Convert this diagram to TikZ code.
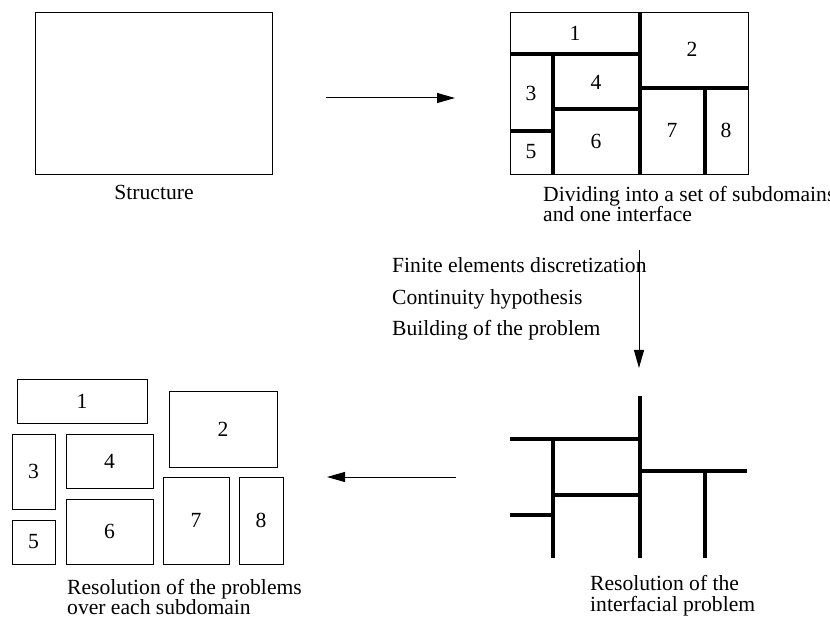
\documentclass[tikz,border=0pt]{standalone}
\usepackage{fontspec}
\setmainfont{Liberation Serif}
\usetikzlibrary{arrows.meta}
\begin{document}
\begin{tikzpicture}[x=1pt,y=-1pt,
  every node/.style={font=\fontsize{21.6}{20}\selectfont, inner sep=0pt},
  boxline/.style={draw, line width=0.9pt},
  subbox/.style={boxline, anchor=center},
  iface/.style={line width=4pt},
  flow/.style={line width=1pt, -{Triangle[length=18pt,width=10pt]}},
  captext/.style={anchor=base west}]
\useasboundingbox (0,0) rectangle (830,617);
% Structure
\node[subbox, minimum width=237, minimum height=162] (struct) at (153.5,93) {};
\node[anchor=base] (structcap) at (154,200) {Structure};
% Divided structure
\node[subbox, minimum width=238, minimum height=162] (dom) at (629,93) {};
\draw[iface] (640,12) -- (640,174);
\draw[iface] (510,54) -- (640,54);
\draw[iface] (553,54) -- (553,174);
\draw[iface] (553,109) -- (640,109);
\draw[iface] (510,131) -- (553,131);
\draw[iface] (640,88) -- (748,88);
\draw[iface] (705,88) -- (705,174);
\node (d1) at (575,33) {1};
\node (d2) at (692,49) {2};
\node (d3) at (531,93) {3};
\node (d4) at (596,82) {4};
\node (d5) at (531,152) {5};
\node (d6) at (596,141) {6};
\node (d7) at (672,130) {7};
\node (d8) at (726,130) {8};
\node[captext] (domcap1) at (543,202) {Dividing into a set of subdomains};
\node[captext] (domcap2) at (543,222) {and one interface};
% top arrow
\coordinate (a1s) at (326,98);
\coordinate (a1e) at (455,98);
\draw[flow] (a1s) -- (a1e);
% vertical arrow and steps
\coordinate (a2s) at (639,250);
\coordinate (a2e) at (639,368);
\draw[flow] (a2s) -- (a2e);
\node[captext] (s1) at (392,273) {Finite elements discretization};
\node[captext] (s2) at (392,305) {Continuity hypothesis};
\node[captext] (s3) at (392,336) {Building of the problem};
% interface problem
\draw[iface] (640,396) -- (640,558);
\draw[iface] (510,439) -- (640,439);
\draw[iface] (553,439) -- (553,558);
\draw[iface] (553,495) -- (640,495);
\draw[iface] (510,515) -- (553,515);
\draw[iface] (640,471) -- (747,471);
\draw[iface] (705,471) -- (705,558);
\node[captext] (ifcap1) at (590,590) {Resolution of the};
\node[captext] (ifcap2) at (590,611) {interfacial problem};
% bottom arrow
\coordinate (a3s) at (456,477);
\coordinate (a3e) at (327,477);
\draw[flow] (a3s) -- (a3e);
% separated subdomains
\node[subbox, minimum width=130, minimum height=44] (b1) at (82,401) {1};
\node[subbox, minimum width=108, minimum height=76] (b2) at (223,429) {2};
\node[subbox, minimum width=43, minimum height=75] (b3) at (33.5,471.5) {3};
\node[subbox, minimum width=87, minimum height=54] (b4) at (109.5,461) {4};
\node[subbox, minimum width=43, minimum height=44] (b5) at (33.5,542) {5};
\node[subbox, minimum width=87, minimum height=65] (b6) at (109.5,531.5) {6};
\node[subbox, minimum width=66, minimum height=87] (b7) at (196,520.5) {7};
\node[subbox, minimum width=44, minimum height=87] (b8) at (261,520.5) {8};
\node[captext] (bcap1) at (67,594) {Resolution of the problems};
\node[captext] (bcap2) at (67,614) {over each subdomain};
\end{tikzpicture}
\end{document}
